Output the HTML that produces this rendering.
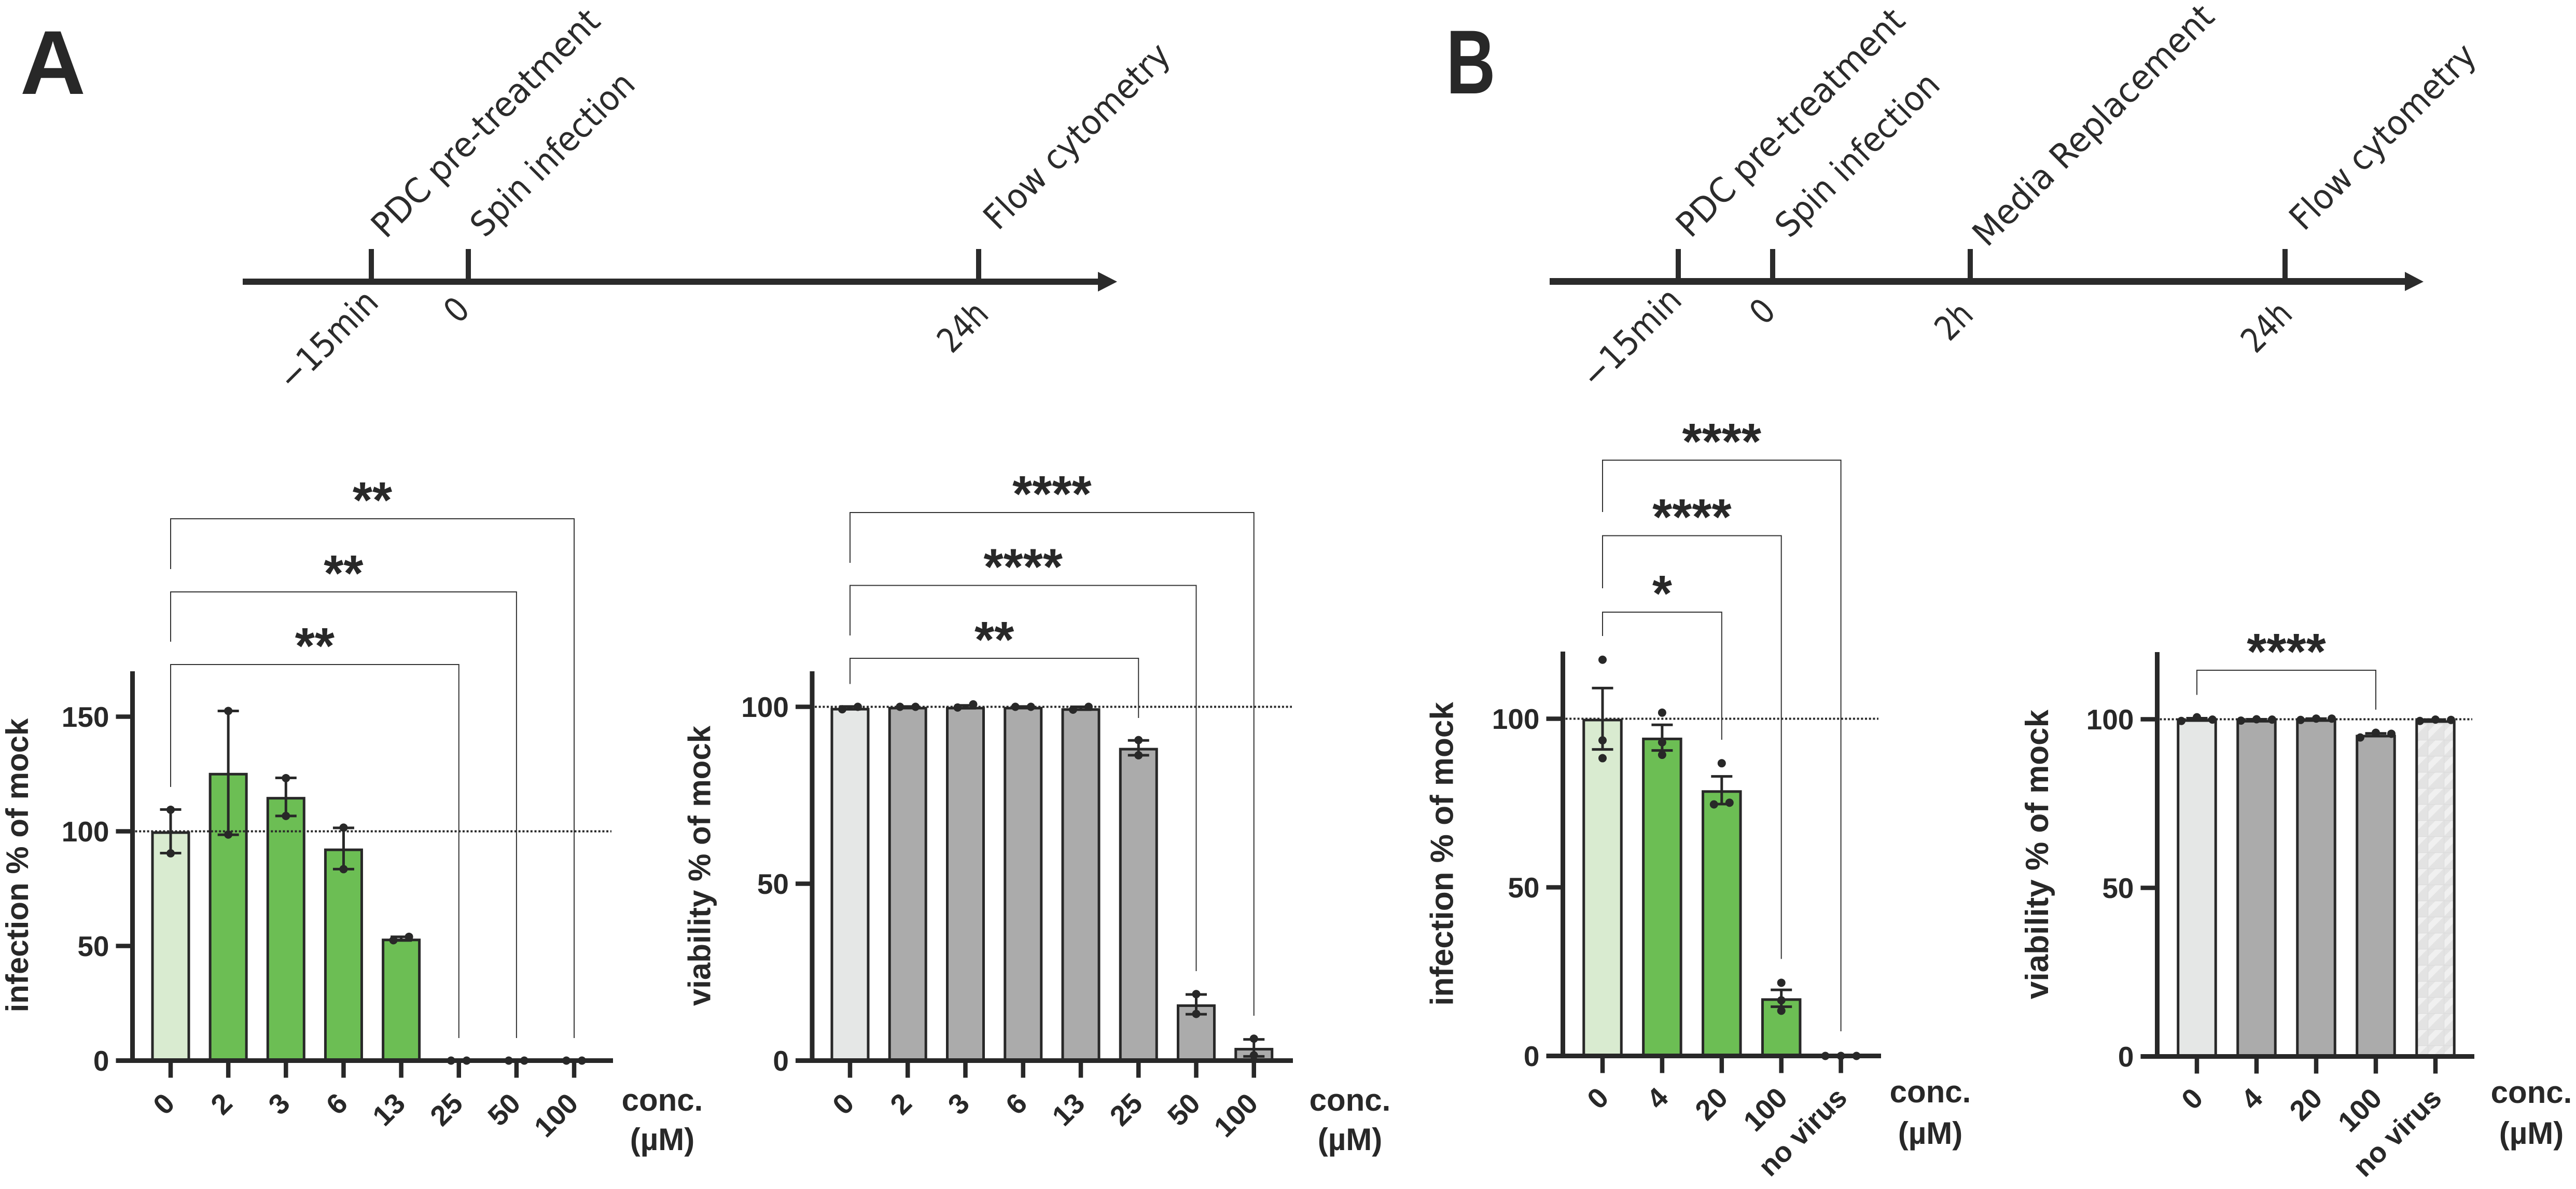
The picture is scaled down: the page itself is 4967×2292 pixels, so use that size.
<!DOCTYPE html>
<html lang="en">
<head>
<meta charset="utf-8">
<title>PDC infection and viability charts</title>
<style>
html,body{margin:0;padding:0;background:#fff;}
svg{display:block;}
text{font-family:"Liberation Sans",sans-serif;fill:#282828;}
.tl{font-family:"DejaVu Sans","Liberation Sans",sans-serif;font-size:66px;fill:#2b2b2b;}
.panel{font-weight:700;font-size:175px;}
</style>
</head>
<body>
<svg id="fig" xmlns="http://www.w3.org/2000/svg" width="4967" height="2292" viewBox="0 0 4967 2292">
<defs>
<pattern id="hatch" patternUnits="userSpaceOnUse" width="31" height="31">
<rect width="31" height="31" fill="#f0f0f0"/>
<path d="M-8 16 L16 -8 M-8 47 L47 -8 M15 39 L39 15" stroke="#e3e3e3" stroke-width="11" fill="none"/>
<path d="M0 0.5H31M0.5 0V31" stroke="#dcdcdc" stroke-width="1.5" fill="none"/>
</pattern>
</defs>

<text class="panel" x="102" y="181" text-anchor="middle">A</text>
<text class="panel" x="2836" y="180" text-anchor="middle" textLength="95" lengthAdjust="spacingAndGlyphs">B</text>

<g>
<rect x="468" y="537" width="1655" height="12" fill="#2b2b2b"/>
<polygon points="2117,524 2154,543 2117,562" fill="#2b2b2b"/>
<rect x="711" y="480" width="10" height="57" fill="#2b2b2b"/>
<rect x="898" y="480" width="10" height="57" fill="#2b2b2b"/>
<rect x="1882" y="480" width="10" height="57" fill="#2b2b2b"/>
<text class="tl" text-anchor="middle" dy="0.35em" transform="translate(936,237) rotate(-45)" textLength="590" lengthAdjust="spacingAndGlyphs">PDC pre-treatment</text>
<text class="tl" text-anchor="middle" dy="0.35em" transform="translate(1065,297) rotate(-45)" textLength="415" lengthAdjust="spacingAndGlyphs">Spin infection</text>
<text class="tl" text-anchor="middle" dy="0.35em" transform="translate(2076,262) rotate(-45)" textLength="475" lengthAdjust="spacingAndGlyphs">Flow cytometry</text>
<text class="tl" text-anchor="middle" dy="0.35em" transform="translate(632,655) rotate(-45)" textLength="240" lengthAdjust="spacingAndGlyphs">−15min</text>
<text class="tl" text-anchor="middle" dy="0.35em" transform="translate(880,597) rotate(-45)" textLength="36" lengthAdjust="spacingAndGlyphs">0</text>
<text class="tl" text-anchor="middle" dy="0.35em" transform="translate(1856,630) rotate(-45)" textLength="105" lengthAdjust="spacingAndGlyphs">24h</text>
</g>

<g>
<rect x="2988" y="536" width="1653" height="13" fill="#2b2b2b"/>
<polygon points="4637,524 4673,543 4637,561" fill="#2b2b2b"/>
<rect x="3231" y="480" width="10" height="57" fill="#2b2b2b"/>
<rect x="3413" y="480" width="10" height="57" fill="#2b2b2b"/>
<rect x="3794" y="480" width="10" height="57" fill="#2b2b2b"/>
<rect x="4401" y="480" width="10" height="57" fill="#2b2b2b"/>
<text class="tl" text-anchor="middle" dy="0.35em" transform="translate(3452,236) rotate(-45)" textLength="590" lengthAdjust="spacingAndGlyphs">PDC pre-treatment</text>
<text class="tl" text-anchor="middle" dy="0.35em" transform="translate(3581,298) rotate(-45)" textLength="415" lengthAdjust="spacingAndGlyphs">Spin infection</text>
<text class="tl" text-anchor="middle" dy="0.35em" transform="translate(4036,241) rotate(-45)" textLength="625" lengthAdjust="spacingAndGlyphs">Media Replacement</text>
<text class="tl" text-anchor="middle" dy="0.35em" transform="translate(4594,263) rotate(-45)" textLength="475" lengthAdjust="spacingAndGlyphs">Flow cytometry</text>
<text class="tl" text-anchor="middle" dy="0.35em" transform="translate(3145,651) rotate(-45)" textLength="240" lengthAdjust="spacingAndGlyphs">−15min</text>
<text class="tl" text-anchor="middle" dy="0.35em" transform="translate(3398,600) rotate(-45)" textLength="36" lengthAdjust="spacingAndGlyphs">0</text>
<text class="tl" text-anchor="middle" dy="0.35em" transform="translate(3767,619) rotate(-45)" textLength="70" lengthAdjust="spacingAndGlyphs">2h</text>
<text class="tl" text-anchor="middle" dy="0.35em" transform="translate(4370,630) rotate(-45)" textLength="105" lengthAdjust="spacingAndGlyphs">24h</text>
</g>
</svg>

<script>
// ---------- chart data ----------
const catsA = ['0','2','3','6','13','25','50','100'];
const catsB = ['0','4','20','100','no virus'];

const infectionATicks = [0,50,100,150];
const infectionAMeans = [100,125.5,115,92.5,53.2,0,0,0];
const infectionAErrors = [9.5,27,8.3,9,0.8,0,0,0];
const infectionAPoints = [[109.4,90.4],[152.5,98.6],[123.2,106.7],[101.6,83.5],[52.5,54],[0,0],[0,0],[0,0]];
const infectionAStars = ['**','**','**'];
const infectionATargets = [5,6,7];

const viabilityATicks = [0,50,100];
const viabilityAMeans = [99.7,100,100,100,99.6,88.4,15.9,3.6];
const viabilityAErrors = [0.4,0.1,0.4,0.1,0.4,2.1,2.8,2.4];
const viabilityAPoints = [[99.3,100],[100,100],[99.8,100.7],[100,100],[99.2,100],[90.6,86.3],[18.8,13.2],[6.2,1.5]];
const viabilityAStars = ['**','****','****'];
const viabilityATargets = [5,6,7];

const infectionBTicks = [0,50,100];
const infectionBMeans = [100,94.4,78.8,17.1,0];
const infectionBErrors = [9.1,3.8,4.1,2.5,0];
const infectionBPoints = [[117.5,93.6,88.3],[101.8,93,89.3],[86.8,74.6,75.1],[21.7,16.5,13.4],[0,0,0]];
const infectionBStars = ['*','****','****'];
const infectionBTargets = [2,3,4];

const viabilityBTicks = [0,50,100];
const viabilityBMeans = [100,99.8,100,95.4,99.7];
const viabilityBErrors = [0.3,0.2,0.2,0.4,0.2];
const viabilityBPoints = [[99.5,100.6,99.9],[99.6,100,99.9],[99.8,100.2,100.2],[94.6,96,95.7],[99.5,99.9,99.8]];
const viabilityBStars = ['****'];
const viabilityBTargets = [3];

// ---------- layout (not data) ----------
const chartInfectionA = {
  key:'infection-a', cats:catsA, ticks:infectionATicks, means:infectionAMeans, errors:infectionAErrors, points:infectionAPoints, stars:infectionAStars, targets:infectionATargets,
  axisX:255.5, top:1294, base:2044.5, unit:4.42, x0:329, step:111.15, barW:75, xEnd:1182, refEnd:1179,
  bracketTops:[1281,1141,1000], bracketLeft:[1517,1237,1097], bracketRight:[2001,2001,2001],
  title:'infection % of mock', titleX:54, titleY:1668, titleSize:60,
  concX:1277, concY1:2141, concY2:2217, tickLabelDx:11, tickLabelDy:86, tickLabelSize:55
};
const chartViabilityA = {
  key:'viability-a', cats:catsA, ticks:viabilityATicks, means:viabilityAMeans, errors:viabilityAErrors, points:viabilityAPoints, stars:viabilityAStars, targets:viabilityATargets,
  axisX:1566, top:1294, base:2044.5, unit:6.82, x0:1639, step:111.25, barW:75, xEnd:2493, refEnd:2491,
  bracketTops:[1269,1128.5,988], bracketLeft:[1318.5,1225,1085], bracketRight:[1384,1872,1958],
  title:'viability % of mock', titleX:1369.5, titleY:1669, titleSize:60,
  concX:2603, concY1:2141, concY2:2217, tickLabelDx:11, tickLabelDy:86, tickLabelSize:55
};
const chartInfectionB = {
  key:'infection-b', cats:catsB, ticks:infectionBTicks, means:infectionBMeans, errors:infectionBErrors, points:infectionBPoints, stars:infectionBStars, targets:infectionBTargets,
  axisX:3013.5, top:1256, base:2035.5, unit:6.5, x0:3090, step:114.9, barW:77.5, xEnd:3627, refEnd:3622,
  bracketTops:[1180,1032.6,887], bracketLeft:[1226,1134,987], bracketRight:[1426,1848.5,1988],
  title:'infection % of mock', titleX:2801.5, titleY:1646, titleSize:62,
  concX:3722, concY1:2125, concY2:2205, tickLabelDx:15, tickLabelDy:84, tickLabelSize:55
};
const chartViabilityB = {
  key:'viability-b', cats:catsB, ticks:viabilityBTicks, means:viabilityBMeans, errors:viabilityBErrors, points:viabilityBPoints, stars:viabilityBStars, targets:viabilityBTargets,
  axisX:4159.5, top:1257, base:2036.5, unit:6.5, x0:4236, step:115, barW:77.5, xEnd:4771, refEnd:4767,
  bracketTops:[1292], bracketLeft:[1339.5], bracketRight:[1368],
  title:'viability % of mock', titleX:3949, titleY:1647, titleSize:62,
  concX:4881, concY1:2126, concY2:2205, tickLabelDx:15, tickLabelDy:84, tickLabelSize:55
};

const NS = 'http://www.w3.org/2000/svg';
const INK = '#282828';
const GREEN = '#6cbe54', GREEN_LIGHT = '#d9ebd0', GREY = '#ababab', GREY_LIGHT = '#e5e7e6';

function add(parent, tag, geom) {
  const node = document.createElementNS(NS, tag);
  for (const k in geom) node.setAttribute(k, geom[k]);
  parent.appendChild(node);
  return node;
}

function drawChart(c) {
  const fig = document.getElementById('fig');
  const g = add(fig, 'g', {});
  
  
  const x = i => c.x0 + i * c.step;
  const y = v => c.base - v * c.unit;
  const isViability = c.key.indexOf('viability') === 0;

  // bars
  c.means.forEach((m, i) => {
    const bar = add(g, 'rect', {
      x: x(i) - c.barW / 2 + 2.5,
      y: y(m) + 2.5,
      width: c.barW - 5,
      height: Math.max(0, c.base - y(m) - 2.5),
      fill: c.cats[i] === 'no virus' ? 'url(#hatch)' : isViability ? (i === 0 ? GREY_LIGHT : GREY) : (i === 0 ? GREEN_LIGHT : GREEN),
      stroke: INK,
      'stroke-width': 5
    });
    
    
  });

  // reference line at 100
  const ref = add(g, 'line', {
    x1: c.axisX + 5, x2: c.refEnd, y1: y(100), y2: y(100),
    stroke: INK, 'stroke-width': 4, 'stroke-dasharray': '4 3.7'
  });
  
  

  // error bars
  c.errors.forEach((e, i) => {
    const lo = y(c.means[i] - e), hi = y(c.means[i] + e);
    const stem = add(g, 'line', { x1: x(i), x2: x(i), y1: lo, y2: hi, stroke: INK, 'stroke-width': 5 });
    
    
    const capHi = add(g, 'line', { x1: x(i) - 20.5, x2: x(i) + 20.5, y1: hi, y2: hi, stroke: INK, 'stroke-width': 5 });
    
    
    const capLo = add(g, 'line', { x1: x(i) - 20.5, x2: x(i) + 20.5, y1: lo, y2: lo, stroke: INK, 'stroke-width': 5 });
    
    
  });

  // axes
  const yAxis = add(g, 'rect', { x: c.axisX - 4.5, y: c.top, width: 9, height: c.base - c.top + 4.5, fill: INK });
  
  
  const xAxis = add(g, 'rect', { x: c.axisX - 32, y: c.base - 4.5, width: c.xEnd - c.axisX + 32, height: 9, fill: INK });
  
  

  // points: neighbours that would overlap are spread sideways
  c.points.forEach((pts, i) => {
    let start = 0;
    for (let k = 1; k <= pts.length; k++) {
      const split = k === pts.length || Math.abs(y(pts[k]) - y(pts[k - 1])) > 15;
      if (!split) continue;
      const n = k - start;
      for (let j = start; j < k; j++) {
        const dot = add(g, 'circle', { cx: x(i) + (j - start - (n - 1) / 2) * 30, cy: y(pts[j]), r: 8, fill: INK });
        
        
      }
      start = k;
    }
  });

  c.ticks.forEach(t => {
    const tk = add(g, 'rect', { x: c.axisX - 32, y: y(t) - 4.25, width: 32, height: 8.5, fill: INK });
    
    
    const lb = add(g, 'text', { x: c.axisX - 45, y: y(t) + 19.5, 'text-anchor': 'end', 'font-weight': 700, 'font-size': 55 });
    lb.textContent = String(t);
    
    
  });

  c.cats.forEach((cat, i) => {
    const tk = add(g, 'rect', { x: x(i) - 4.25, y: c.base, width: 8.5, height: 33, fill: INK });
    
    
    const px = x(i) + c.tickLabelDx, py = c.base + c.tickLabelDy;
    const lb = add(g, 'text', { 'text-anchor': 'end', 'font-weight': 700, 'font-size': c.tickLabelSize, transform: 'translate(' + px + ',' + py + ') rotate(-45)' });
    lb.textContent = cat;
    
    
  });

  // axis title + unit label
  const ttl = add(g, 'text', { 'text-anchor': 'middle', 'font-weight': 700, 'font-size': c.titleSize, transform: 'translate(' + c.titleX + ',' + c.titleY + ') rotate(-90)' });
  ttl.textContent = c.title;
  
  
  const u1 = add(g, 'text', { x: c.concX, y: c.concY1, 'text-anchor': 'middle', 'font-weight': 700, 'font-size': 60 });
  u1.textContent = 'conc.';
  
  
  const u2 = add(g, 'text', { x: c.concX, y: c.concY2, 'text-anchor': 'middle', 'font-weight': 700, 'font-size': 60 });
  u2.textContent = '(µM)';
  
  

  // significance brackets
  c.stars.forEach((s, b) => {
    const xl = x(0), xr = x(c.targets[b]), top = c.bracketTops[b];
    const br = add(g, 'path', {
      d: 'M' + xl + ' ' + c.bracketLeft[b] + 'V' + top + 'H' + xr + 'V' + c.bracketRight[b],
      fill: 'none', stroke: '#333', 'stroke-width': 2
    });
    
    
    const st = add(g, 'text', { x: (xl + xr) / 2, y: top - 2, 'text-anchor': 'middle', 'font-weight': 700, 'font-size': 98 });
    st.textContent = s;
    
    
  });
}

drawChart(chartInfectionA);
drawChart(chartViabilityA);
drawChart(chartInfectionB);
drawChart(chartViabilityB);
</script>
</body>
</html>
